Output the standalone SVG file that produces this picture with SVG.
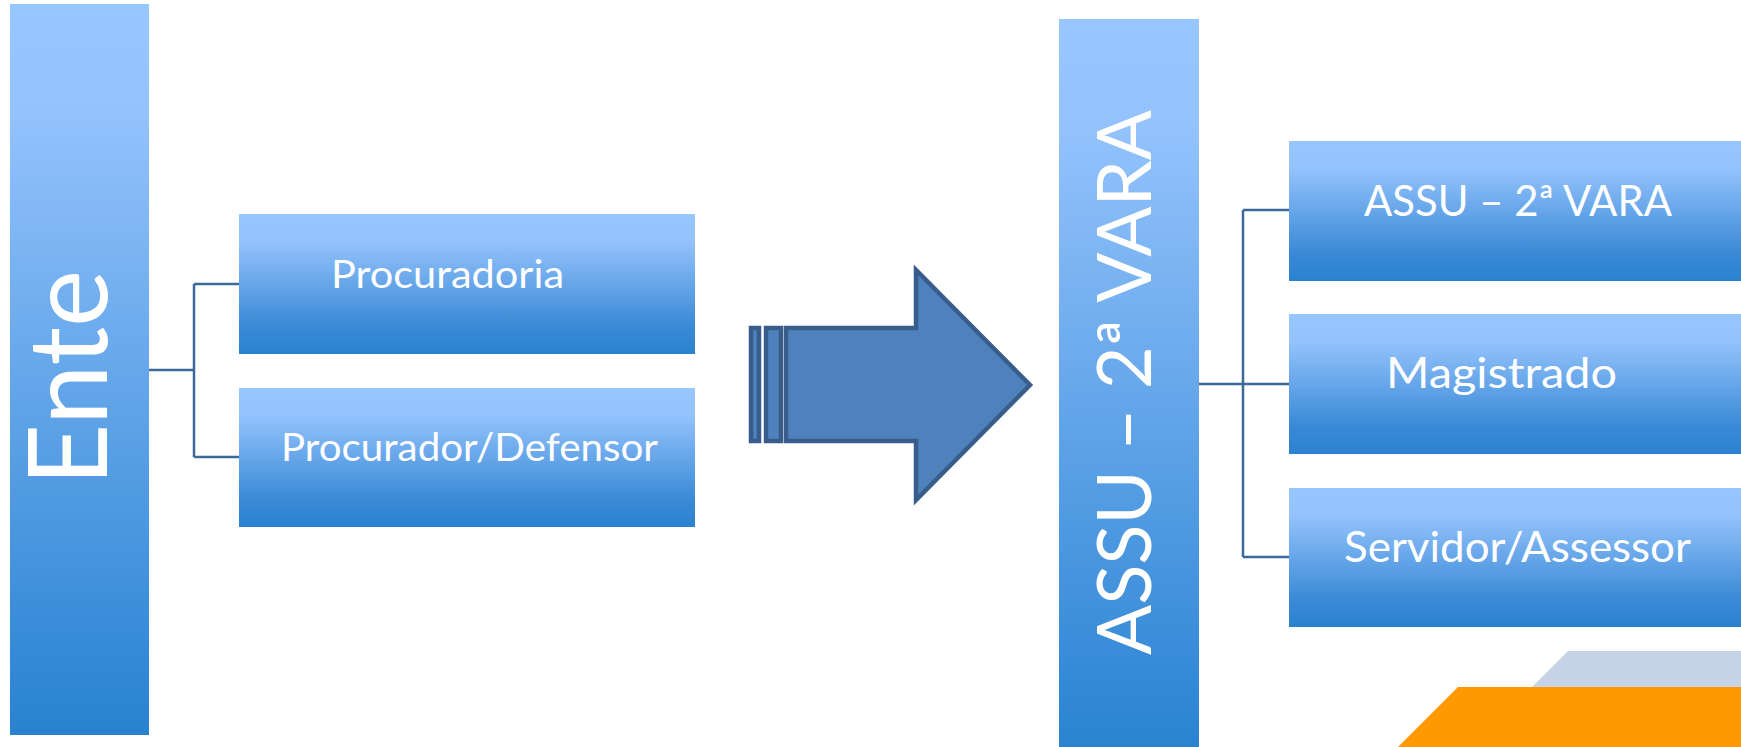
<svg xmlns="http://www.w3.org/2000/svg" width="1741" height="747" viewBox="0 0 1741 747">
<defs>
<linearGradient id="g" x1="0" y1="0" x2="0" y2="1">
<stop offset="0" stop-color="#98C6FF"/>
<stop offset="0.2" stop-color="#93C2FC"/>
<stop offset="0.8" stop-color="#3A8AD6"/>
<stop offset="1" stop-color="#2A82CE"/>
</linearGradient>
<linearGradient id="gt" x1="0" y1="0" x2="0" y2="1">
<stop offset="0" stop-color="#98C6FF"/>
<stop offset="0.15" stop-color="#93C2FC"/>
<stop offset="0.9" stop-color="#3389D6"/>
<stop offset="1" stop-color="#2A82CE"/>
</linearGradient>
<style>
.box{fill:url(#g);}
.tall{fill:url(#gt);}
.lbl{font-family:Lato,"Liberation Sans",Arial,sans-serif;font-weight:400;fill:#FFFFFF;font-size:38px;}
.lbr{font-family:Lato,"Liberation Sans",Arial,sans-serif;font-weight:400;fill:#FFFFFF;font-size:43px;}
.big{font-family:Lato,"Liberation Sans",Arial,sans-serif;font-weight:400;fill:#FFFFFF;}
.con{fill:none;stroke:#3B6A98;stroke-width:2.5;}
.arr{fill:#4F81BD;stroke:#385D8A;stroke-width:4.5;}
</style>
</defs>
<rect width="1741" height="747" fill="#FFFFFF"/>
<g id="connectors">
<path class="con" d="M149,370 H194 M194,284 V457 M194,284 H239 M194,457 H239"/>
<path class="con" d="M1199,384 H1289 M1243,210 V557 M1243,210 H1289 M1243,557 H1289"/>
</g>
<g id="ente">
<rect class="tall" x="10" y="4" width="139" height="731"/>
<text class="big" font-size="110" transform="translate(107,486) rotate(-90)" textLength="216" lengthAdjust="spacingAndGlyphs">Ente</text>
</g>
<g id="procuradoria">
<rect class="box" x="239" y="214" width="456" height="140"/>
<text class="lbl" x="331" y="288" textLength="233" lengthAdjust="spacingAndGlyphs">Procuradoria</text>
</g>
<g id="procurador">
<rect class="box" x="239" y="388" width="456" height="139"/>
<text class="lbl" x="281" y="461" textLength="377" lengthAdjust="spacingAndGlyphs">Procurador/Defensor</text>
</g>
<g id="arrow">
<rect class="arr" x="751" y="328" width="8" height="113"/>
<rect class="arr" x="766" y="328" width="15" height="113"/>
<path class="arr" d="M786,328 L916,328 L916,270 L1030,385 L916,500 L916,441 L786,441 Z"/>
</g>
<g id="assu">
<rect class="tall" x="1059" y="19" width="140" height="740"/>
<text class="big" font-size="75" transform="translate(1151,655) rotate(-90)" textLength="545" lengthAdjust="spacingAndGlyphs">ASSU – 2ª VARA</text>
</g>
<g id="assu-vara">
<rect class="box" x="1289" y="141" width="460" height="140"/>
<text class="lbr" x="1364" y="216" textLength="308" lengthAdjust="spacingAndGlyphs">ASSU – 2ª VARA</text>
</g>
<g id="magistrado">
<rect class="box" x="1289" y="314" width="460" height="140"/>
<text class="lbr" x="1386" y="388" textLength="231" lengthAdjust="spacingAndGlyphs">Magistrado</text>
</g>
<g id="servidor">
<rect class="box" x="1289" y="488" width="460" height="139"/>
<text class="lbr" x="1344" y="562" textLength="347" lengthAdjust="spacingAndGlyphs">Servidor/Assessor</text>
</g>
<polygon points="1568,651 1741,651 1741,692 1527,692" fill="#C6D3E6"/>
<polygon points="1458,687 1741,687 1741,747 1398,747" fill="#FF9900"/>
</svg>
